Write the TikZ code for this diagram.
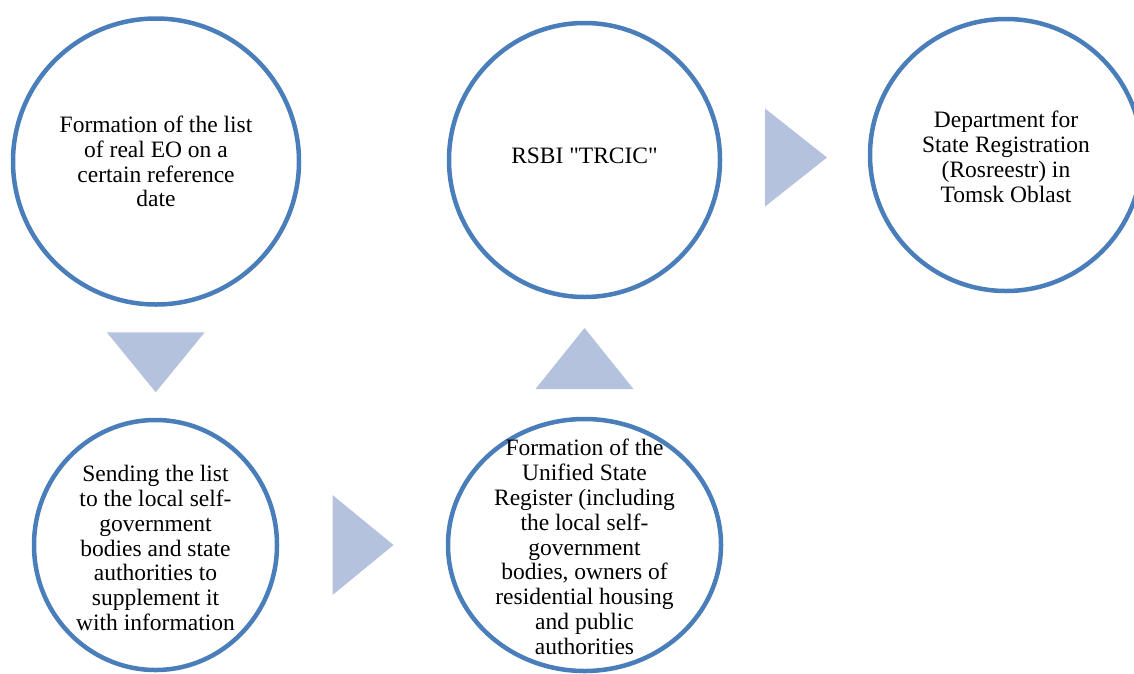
\documentclass[tikz,border=0pt]{standalone}
\usepackage{fontspec}
\setmainfont{Liberation Serif}[Ligatures=TeXOff]
\usetikzlibrary{%
        calc,
        shapes.geometric
    }
\definecolor{ringblue}{RGB}{74, 126, 187}
\definecolor{tipblue}{RGB}{180, 194, 222}
\tikzset{
    stage/.style={draw=ringblue, line width=4.5pt, ellipse, inner sep=0pt},
    stagetext/.style={align=center, inner sep=0pt,
        font=\fontsize{23.5}{24.8}\selectfont},
    flowtip/.style={fill=tipblue}
}

\begin{document}
\begin{tikzpicture}[x=1pt, y=-1pt]
    \useasboundingbox (0, 0) rectangle (1134, 673);

    \node[stage, minimum width=286, minimum height=286] (formlist) at (156, 161.5) {};
    \node[stage, minimum width=243, minimum height=250] (sending) at (155.5, 545) {};
    \node[stage, minimum width=273, minimum height=252] (register) at (584.5, 545) {};
    \node[stage, minimum width=271, minimum height=274] (rsbi) at (584.5, 160) {};
    \node[stage, minimum width=272, minimum height=272] (dept) at (1006, 155) {};

    \node[stagetext] (formlist-text) at (formlist) {Formation of the list\\
        of real EO on a\\ certain reference\\ date};
    \node[stagetext] (sending-text) at ($(sending)+(0, 3)$) {Sending the list\\
        to the local self-\\ government\\ bodies and state\\
        authorities to\\ supplement it\\ with information};
    \node[stagetext] (register-text) at ($(register)+(0, 2)$) {Formation of the\\
        Unified State\\ Register (including\\ the local self-\\
        government\\ bodies, owners of\\ residential housing\\
        and public\\ authorities};
    \node[stagetext] (rsbi-text) at ($(rsbi)+(0, -4)$) {RSBI "TRCIC"};
    \node[stagetext] (dept-text) at ($(dept)+(0, 2)$) {Department for\\
        State Registration\\ (Rosreestr) in\\ Tomsk Oblast};

    \coordinate (tip-down) at ($(formlist.south)!0.5!(sending.north)$);
    \coordinate (tip-right) at ($(sending.east)!0.5!(register.west)$);
    \coordinate (tip-up) at ($(rsbi.south)!0.5!(register.north)$);
    \coordinate (tip-top) at ($(rsbi.east)!0.5!(dept.west)$);

    \fill[flowtip, shift={(tip-down)}] (-49, -30) -- (49, -30) -- (0, 30) -- cycle;
    \fill[flowtip, shift={(tip-right)}] (-30, -50) -- (-30, 50) -- (31, 0) -- cycle;
    \fill[flowtip, shift={(tip-up)}] (-49, 31) -- (49, 31) -- (0, -30) -- cycle;
    \fill[flowtip, shift={(tip-top)}] (-30, -49) -- (-30, 49) -- (32, 0) -- cycle;
\end{tikzpicture}
\end{document}
